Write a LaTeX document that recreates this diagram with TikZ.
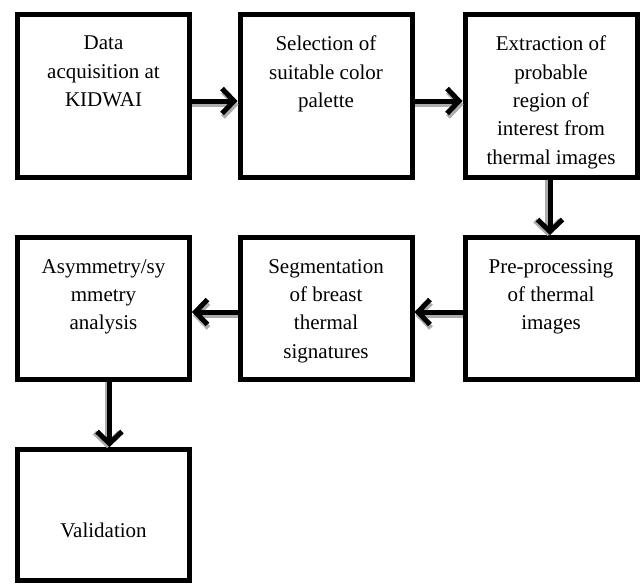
\documentclass[tikz,border=0pt]{standalone}
\usepackage{fontspec}
\setmainfont{Liberation Serif}
\usetikzlibrary{arrows.meta}
\begin{document}
\begin{tikzpicture}[x=1pt,y=-1pt,
  box/.style={draw=black, line width=5pt, minimum width=172pt, inner sep=0pt},
  txt/.style={anchor=north, align=center, inner sep=0pt, font=\fontsize{21}{28.3}\selectfont},
  arr/.style={line width=5pt, -{Straight Barb[length=12pt,width=25pt,line width=5pt]}},
  shad/.style={line width=5pt, draw=gray!65, -{Straight Barb[length=12pt,width=25pt,line width=5pt]}}
]
\useasboundingbox (0,0) rectangle (642,584);
% boxes
\node[box, minimum height=163pt] (b1) at (103.5,96) {};
\node[box, minimum height=163pt] (b2) at (326,96) {};
\node[box, minimum height=163pt] (b3) at (551,96) {};
\node[box, minimum height=142pt] (b4) at (551,308.5) {};
\node[box, minimum height=142pt] (b5) at (326,308.5) {};
\node[box, minimum height=142pt] (b6) at (103.5,308.5) {};
\node[box, minimum height=131pt] (b7) at (103.5,515) {};
% texts
\node[txt] (t1) at (103.5,36) {Data\\acquisition at\\KIDWAI};
\node[txt] (t2) at (326,36) {Selection of\\suitable color\\palette};
\node[txt] (t3) at (551,36) {Extraction of\\probable\\region of\\interest from\\thermal images};
\node[txt] (t4) at (551,259) {Pre-processing\\of thermal\\images};
\node[txt] (t5) at (326,259) {Segmentation\\of breast\\thermal\\signatures};
\node[txt] (t6) at (103.5,259) {Asymmetry/sy\\mmetry\\analysis};
\node[txt, anchor=center] (t7) at (103.5,530) {Validation};
% connector end coordinates
\coordinate (a1s) at ([yshift=-5pt]b1.east);
\coordinate (a1e) at ([yshift=-5pt]b2.west);
\coordinate (a2s) at ([yshift=-5pt]b2.east);
\coordinate (a2e) at ([yshift=-5pt]b3.west);
\coordinate (a4s) at ([yshift=-3.5pt]b4.west);
\coordinate (a4e) at ([yshift=-3.5pt]b5.east);
\coordinate (a5s) at ([yshift=-3.5pt]b5.west);
\coordinate (a5e) at ([yshift=-3.5pt]b6.east);
\coordinate (d1s) at ([xshift=-1pt]b3.south);
\coordinate (d1e) at ([xshift=-1pt]b4.north);
\coordinate (d2s) at ([xshift=6pt]b6.south);
\coordinate (d2e) at ([xshift=6pt]b7.north);
% shadows
\draw[shad] ([shift={(0,3.5)}]a1s) -- ([shift={(1,3.5)}]a1e);
\draw[shad] ([shift={(0,3.5)}]a2s) -- ([shift={(1,3.5)}]a2e);
\draw[shad] ([shift={(0,3.5)}]a4s) -- ([shift={(1,3.5)}]a4e);
\draw[shad] ([shift={(0,3.5)}]a5s) -- ([shift={(1,3.5)}]a5e);
\draw[shad] ([shift={(-2.5,0)}]d1s) -- ([shift={(-2.5,1)}]d1e);
\draw[shad] ([shift={(-2.5,0)}]d2s) -- ([shift={(-2.5,1)}]d2e);
% arrows
\draw[arr] (a1s) -- (a1e);
\draw[arr] (a2s) -- (a2e);
\draw[arr] (a4s) -- (a4e);
\draw[arr] (a5s) -- (a5e);
\draw[arr] (d1s) -- (d1e);
\draw[arr] (d2s) -- (d2e);
\end{tikzpicture}
\end{document}
